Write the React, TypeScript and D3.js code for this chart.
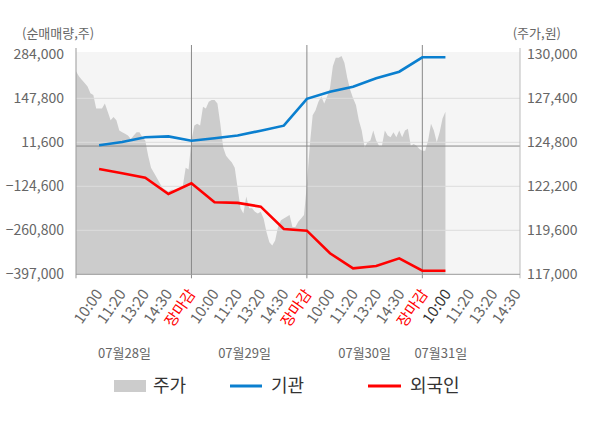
import React from 'react';
import * as d3 from 'd3';

// ---- data ----
const leftTicks = [284000, 147800, 11600, -124600, -260800, -397000];
const rightTicks = [130000, 127400, 124800, 122200, 119600, 117000];
const timeLabels = [
  '10:00', '11:20', '13:20', '14:30', '장마감',
  '10:00', '11:20', '13:20', '14:30', '장마감',
  '10:00', '11:20', '13:20', '14:30', '장마감',
  '10:00', '11:20', '13:20', '14:30',
];
const dayLabels = ['07월28일', '07월29일', '07월30일', '07월31일'];

// 주가 (price), 8 samples per label slot
const price = [
  129000, 128700, 128500, 128300, 128100, 127700, 127600, 126800,
  126800, 126800, 127100, 126600, 126100, 126300, 126100, 125500,
  125400, 125300, 125200, 125000, 125200, 125400, 125400, 125100,
  124900, 124000, 123300, 123000, 122700, 122400, 122100, 122000,
  121900, 122000, 122000, 122000, 122100, 122200, 123300, 123200,
  124900, 125800, 125900, 125800, 126900, 126800, 127200, 127300,
  127300, 127100, 125900, 124500, 124000, 123800, 123600, 123300,
  122100, 120900, 120600, 121600, 120900, 120900, 120700, 120600,
  120700, 120300, 119500, 118900, 118700, 119000, 119800, 120200,
  120300, 120400, 120500, 119800, 119800, 120100, 120300, 120500,
  122300, 124600, 126400, 126700, 127200, 127500, 127100, 127500,
  128000, 129300, 129800, 129800, 129900, 129500, 128600, 127900,
  127400, 127000, 126100, 125500, 124500, 124800, 124900, 125500,
  124900, 124600, 124600, 125500, 125200, 125100, 125400, 125100,
  125500, 125100, 125500, 125600, 124600, 124700, 124600, 124400,
  124300, 124300, 124900, 125900, 125500, 124800, 125400, 126200,
  126600,
];
// 기관 / 외국인 cumulative net volume at label slots 1..16
const institution = [
  2300, 12500, 27000, 30000, 16600, 24000, 32600, 47500,
  63000, 146000, 168200, 183700, 209700, 230100, 274700, 274700,
];
const foreigner = [
  -71000, -84400, -97900, -148400, -115300, -174100, -176000, -187700,
  -256800, -262000, -332000, -378400, -371300, -347500, -385900, -385900,
];

// ---- layout ----
const W = 600;
const H = 428;
const L = 76;
const R = 520;
const T = 54.3;
const B = 274.3;
const SAMPLES_PER_SLOT = 8;
const SLOTS = 19.23;
const dayLabelSlot = [2.1, 7.3, 12.5, 15.8];
const daySepSlots = [5, 10, 15];
const FONT = "'Noto Sans CJK KR', 'Noto Sans', sans-serif";

const BLUE = '#0a7fcf';
const RED = '#ff0000';
const AREA = '#cccccc';

export default function App() {
  const x = d3.scaleLinear().domain([0, SLOTS]).range([L, R]);
  const yL = d3.scaleLinear().domain([-397000, 284000]).range([B, T]);
  const yR = d3.scaleLinear().domain([117000, 130000]).range([B, T]);
  const labelX = d3.scaleLinear().domain([0, timeLabels.length - 1]).range([103.3, 521.5]);

  const areaGen = d3
    .area<number>()
    .x((_, i) => x(i / SAMPLES_PER_SLOT))
    .y0(yR(117000))
    .y1((d) => yR(d));

  const lineL = d3
    .line<number>()
    .x((_, i) => x(i + 1))
    .y((d) => yL(d));

  const fmt = d3.format(',');

  return (
    <div style={{ position: 'fixed', left: 0, top: 0 }}>
      <svg width={W} height={H} style={{ display: 'block', background: '#fff' }} fontFamily={FONT}>
        {/* plot background */}
        <rect x={L} y={52} width={R - L} height={B - 52} fill="#f5f5f5" />

        {/* price area */}
        <path d={areaGen(price) || ''} fill={AREA} />

        {/* horizontal gridlines */}
        {leftTicks.slice(1, -1).map((t) => (
          <line key={t} x1={L} x2={R} y1={yL(t)} y2={yL(t)} stroke="#dddddd" strokeWidth={1} />
        ))}
        {/* zero line */}
        <line x1={L} x2={R} y1={yL(0)} y2={yL(0)} stroke="#888888" strokeWidth={1} />

        {/* day separators */}
        {daySepSlots.map((s) => (
          <line key={s} x1={x(s)} x2={x(s)} y1={45} y2={B + 4} stroke="#888888" strokeWidth={1} />
        ))}
        {/* axes */}
        <line x1={L} x2={L} y1={48} y2={B + 4} stroke="#999999" strokeWidth={1} />
        <line x1={R} x2={R} y1={48} y2={B + 4} stroke="#bbbbbb" strokeWidth={1} />
        <line x1={L} x2={R} y1={B} y2={B} stroke="#999999" strokeWidth={1} />

        {/* series lines */}
        <path d={lineL(institution) || ''} fill="none" stroke={BLUE} strokeWidth={2.6} />
        <path d={lineL(foreigner) || ''} fill="none" stroke={RED} strokeWidth={2.6} />

        {/* left axis labels */}
        {leftTicks.map((t) => (
          <text key={t} x={64} y={yL(t)} dy="0.36em" textAnchor="end" fontSize={14} fill="#666">
            {fmt(t)}
          </text>
        ))}
        {/* right axis labels */}
        {rightTicks.map((t) => (
          <text key={t} x={527} y={yR(t)} dy="0.36em" textAnchor="start" fontSize={14} fill="#666">
            {fmt(t)}
          </text>
        ))}
        <text x={22} y={33} dy="0.36em" fontSize={13} fill="#666">(순매매량,주)</text>
        <text x={561} y={33} dy="0.36em" textAnchor="end" fontSize={13} fill="#666">(주가,원)</text>

        {/* time labels */}
        {timeLabels.map((lab, k) => {
          const ax = labelX(k);
          const ay = 294;
          const color = lab === '장마감' ? RED : k === 15 ? '#333' : '#666';
          return (
            <text
              key={k}
              transform={`translate(${ax},${ay}) rotate(-55)`}
              textAnchor="end"
              fontSize={15}
              fill={color}
            >
              {lab}
            </text>
          );
        })}

        {/* day labels */}
        {dayLabels.map((d, i) => (
          <text key={d} x={x(dayLabelSlot[i])} y={353} dy="0.36em" textAnchor="middle" fontSize={13} fill="#666">
            {d}
          </text>
        ))}

        {/* legend */}
        <rect x={114} y={380} width={32} height={12} fill={AREA} />
        <text x={153} y={386} dy="0.36em" fontSize={18} fill="#333">주가</text>
        <line x1={230} x2={262} y1={386} y2={386} stroke={BLUE} strokeWidth={3} />
        <text x={271} y={386} dy="0.36em" fontSize={18} fill="#333">기관</text>
        <line x1={368} x2={401} y1={386} y2={386} stroke={RED} strokeWidth={3} />
        <text x={410} y={386} dy="0.36em" fontSize={18} fill="#333">외국인</text>
      </svg>
    </div>
  );
}
